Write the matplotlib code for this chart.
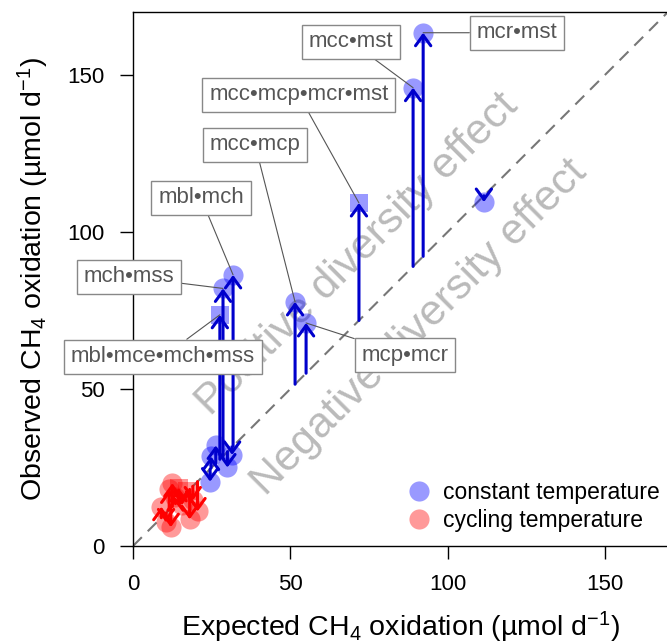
import matplotlib
matplotlib.use('Agg')
import matplotlib.pyplot as plt
from matplotlib.lines import Line2D

plt.rcParams['font.family'] = ['Liberation Sans', 'DejaVu Sans']
plt.rcParams['mathtext.fontset'] = 'custom'
plt.rcParams['mathtext.rm'] = 'Liberation Sans'
plt.rcParams['mathtext.default'] = 'regular'

# constant temperature mixtures: expected vs observed CH4 oxidation
blue_exp = [92.2, 89.0, 71.8, 111.5, 51.5, 55.0, 31.8, 28.6, 27.6, 24.5, 24.8, 26.3, 30.0, 31.5]
blue_obs = [163.4, 145.9, 109.2, 109.5, 77.7, 71.0, 86.3, 82.0, 73.6, 20.5, 28.5, 32.0, 25.0, 29.0]
blue_square = [False, False, True, False, False, False, False, False, True,
               False, False, False, False, False]

# cycling temperature mixtures
red_exp = [9.0, 10.5, 11.5, 12.0, 12.5, 13.5, 14.5, 15.5, 17.0, 18.0, 19.0, 20.5]
red_obs = [12.5, 7.5, 18.0, 6.0, 20.0, 15.5, 18.5, 13.0, 17.5, 8.5, 14.5, 11.0]
red_square = [False, False, False, False, False, False, True, False, True,
              False, False, False]

# labelled mixtures: (label, point index in blue arrays, label position)
labels = ['mcr•mst', 'mcc•mst', 'mcc•mcp•mcr•mst', 'mcc•mcp',
          'mbl•mch', 'mch•mss', 'mbl•mce•mch•mss', 'mcp•mcr']
label_idx = [0, 1, 2, 4, 6, 7, 8, 5]
label_x = [122.0, 69.3, 52.7, 38.8, 21.6, -1.3, 9.5, 86.4]
label_y = [163.4, 160.5, 143.6, 127.7, 110.8, 85.7, 60.2, 60.8]

fig = plt.figure(figsize=(6.67, 6.44), dpi=100)
ax = fig.add_axes([133 / 667, 98 / 644, 535 / 667, 534 / 644])
ax.set_xlim(0, 170)
ax.set_ylim(0, 170)

ax.plot([0, 200], [0, 200], color='#777777', lw=1.5, dashes=(6, 4), zorder=1)

ax.text(71.2, 93, 'Positive diversity effect', rotation=45, fontsize=31,
        color='#bababa', ha='center', va='center', rotation_mode='anchor', zorder=2)
ax.text(91, 69.4, 'Negative diversity effect', rotation=45, fontsize=31,
        color='#bababa', ha='center', va='center', rotation_mode='anchor', zorder=2)


def draw_group(xs, ys, squares, col, acol):
    for x, y, sq in zip(xs, ys, squares):
        ax.plot(x, y, marker='s' if sq else 'o', markersize=13 if sq else 14.5,
                color=col, alpha=0.4, markeredgewidth=0, zorder=3)
    for x, y in zip(xs, ys):
        ax.annotate('', xy=(x, y), xytext=(x, x),
                    arrowprops=dict(arrowstyle='->,head_length=0.75,head_width=0.55',
                                    color=acol, lw=2.2, shrinkA=0, shrinkB=0,
                                    mutation_scale=10), zorder=4)


draw_group(blue_exp, blue_obs, blue_square, 'blue', '#0000cc')
draw_group(red_exp, red_obs, red_square, 'red', '#ff0000')

for lab, i, lx, ly in zip(labels, label_idx, label_x, label_y):
    ax.annotate(lab, xy=(blue_exp[i], blue_obs[i]), xytext=(lx, ly),
                fontsize=16, color='#555555', ha='center', va='center',
                annotation_clip=False, zorder=6,
                bbox=dict(boxstyle='square,pad=0.3', fc='white', ec='#888888', lw=1),
                arrowprops=dict(arrowstyle='-', color='#555555', lw=0.8,
                                shrinkA=0, shrinkB=0))

ax.set_xticks([0, 50, 100, 150])
ax.set_yticks([0, 50, 100, 150])
ax.tick_params(labelsize=16, length=9.5, width=1, pad=11)
ax.spines['right'].set_visible(False)
for s in ['left', 'bottom', 'top']:
    ax.spines[s].set_linewidth(1)

ax.set_xlabel('Expected CH$_4$ oxidation (µmol d$^{-1}$)', fontsize=20.5, labelpad=10)
ax.set_ylabel('Observed CH$_4$ oxidation (µmol d$^{-1}$)', fontsize=20.5, labelpad=12)

handles = [Line2D([], [], marker='o', ls='none', markersize=14.5, color='blue',
                  alpha=0.4, markeredgewidth=0),
           Line2D([], [], marker='o', ls='none', markersize=14.5, color='red',
                  alpha=0.4, markeredgewidth=0)]
ax.legend(handles, ['constant temperature', 'cycling temperature'],
          loc='upper left', bbox_to_anchor=(405 / 667, 1 - 481 / 644),
          bbox_transform=fig.transFigure, frameon=False, fontsize=16.5,
          handlelength=1.2, handletextpad=0.45, labelspacing=0.2, borderpad=0,
          borderaxespad=0)

fig.savefig('out.png', dpi=100)
